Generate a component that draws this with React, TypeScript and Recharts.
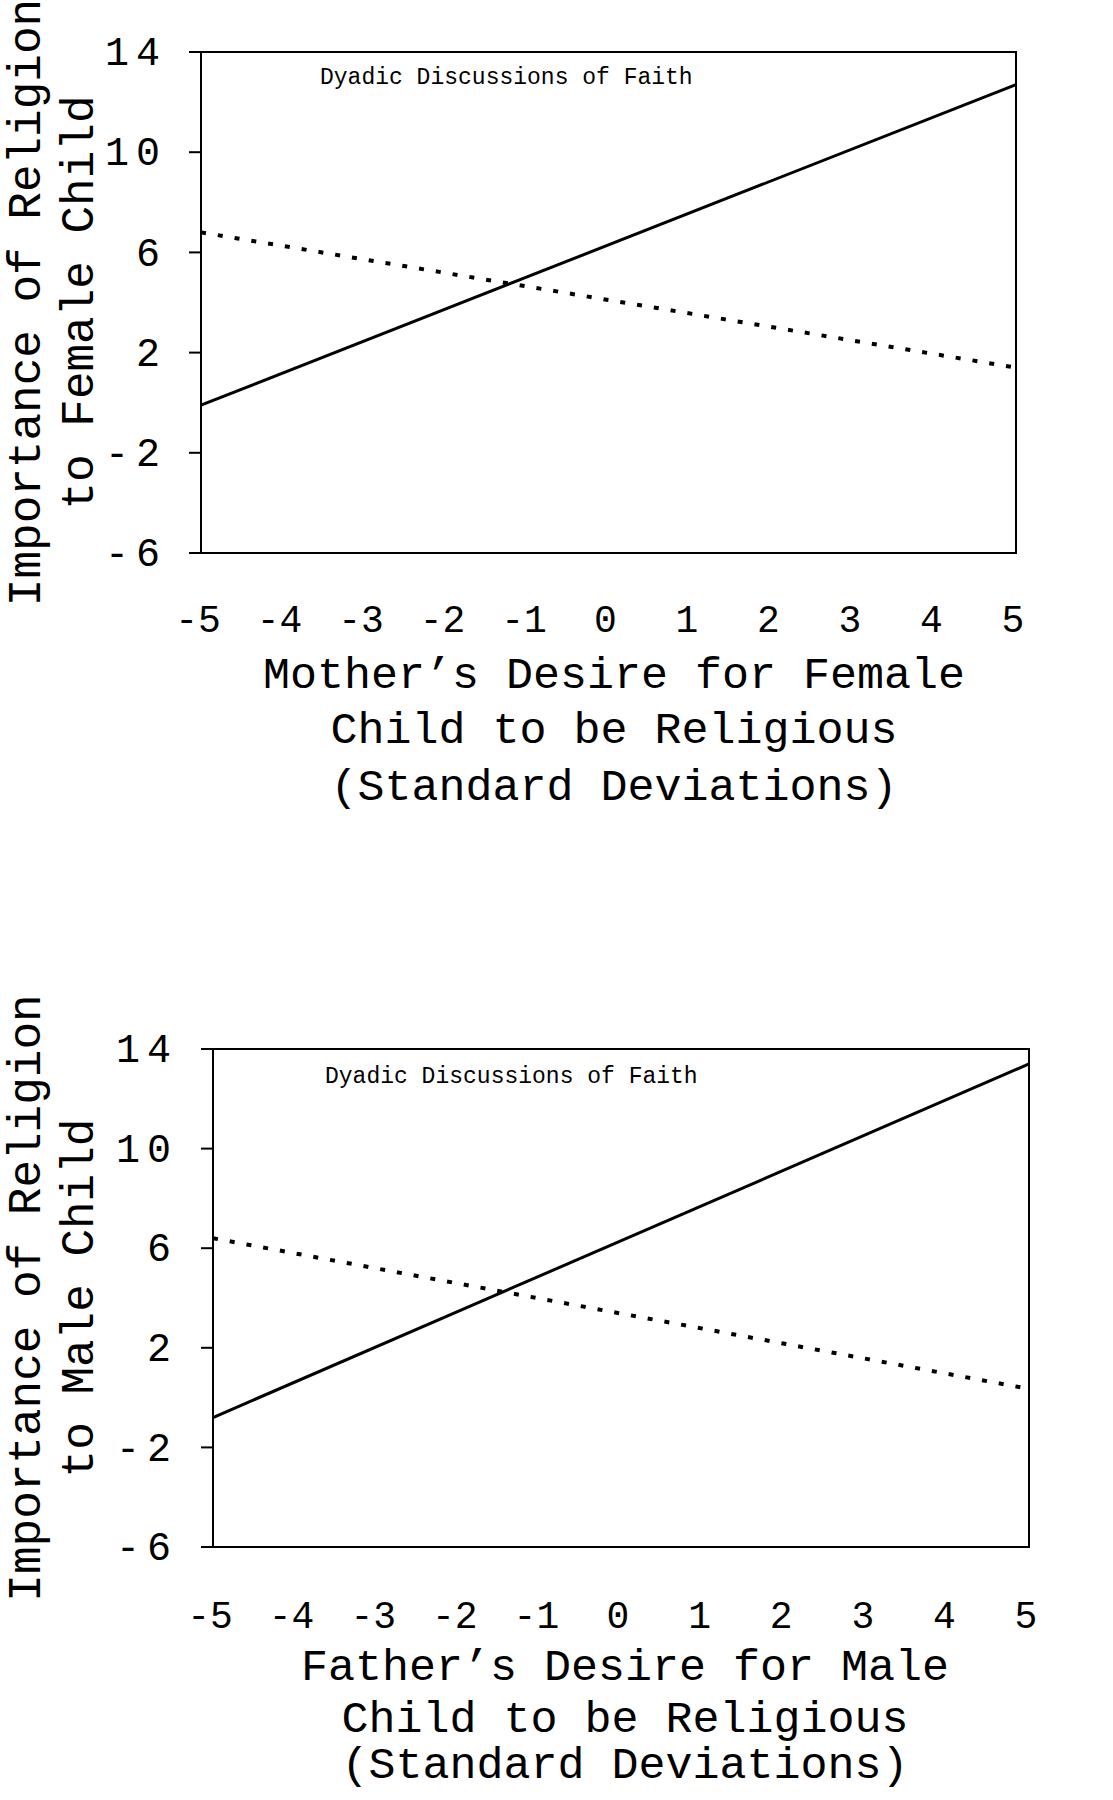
import { LineChart, Line, XAxis, YAxis, ReferenceArea } from "recharts";

const xValues = [-5, 5];
const xTicks = [-5, -4, -3, -2, -1, 0, 1, 2, 3, 4, 5];
const yTicks = [14, 10, 6, 2, -2, -6];

// solid = with dyadic discussions of faith, dotted = without
const femaleSolid = [-0.1, 12.7];
const femaleDotted = [6.8, 1.4];
const maleSolid = [-0.8, 13.4];
const maleDotted = [6.4, 0.35];

const annotation = "Dyadic Discussions of Faith";
const femaleYTitle = ["Importance of Religion", "to Female Child"];
const maleYTitle = ["Importance of Religion", "to Male Child"];
const femaleXTitle = ["Mother\u2019s Desire for Female", "Child to be Religious", "(Standard Deviations)"];
const maleXTitle = ["Father\u2019s Desire for Male", "Child to be Religious", "(Standard Deviations)"];

const FONT = "'Liberation Mono', 'DejaVu Sans Mono', monospace";
const W = 1113;
const H = 900;
const Y_AXIS_W = 150;
const X_AXIS_H = 100;

type Box = { left: number; right: number; top: number; bottom: number };

type PanelProps = {
  top: number;
  box: Box;
  solid: number[];
  dotted: number[];
  yTitle: string[];
  xTitle: string[];
  xTitleCenter: number;
  xTitleBase: number[];
  xTickBase: number;
  yTickRight: number;
  note: { dx: number; dy: number };
};

const Panel = ({
  top,
  box,
  solid,
  dotted,
  yTitle,
  xTitle,
  xTitleCenter,
  xTitleBase,
  xTickBase,
  yTickRight,
  note,
}: PanelProps) => {
  const data = xValues.map((x, i) => ({ x, solid: solid[i], dotted: dotted[i] }));
  const midY = (box.top + box.bottom) / 2;

  return (
    <div style={{ position: "absolute", left: 0, top, width: W, height: H }}>
      <LineChart
        width={W}
        height={H}
        data={data}
        margin={{
          top: box.top,
          right: W - box.right,
          left: box.left - Y_AXIS_W,
          bottom: H - box.bottom - X_AXIS_H,
        }}
      >
        <XAxis
          dataKey="x"
          type="number"
          domain={[-5, 5]}
          ticks={xTicks}
          interval={0}
          height={X_AXIS_H}
          axisLine={false}
          tickLine={false}
          tick={(p: any) => (
            <text
              x={p.x - 3}
              y={xTickBase}
              textAnchor="middle"
              fontFamily={FONT}
              fontSize={38}
              fill="#000"
            >
              {p.payload.value}
            </text>
          )}
          label={() => (
            <g>
              {xTitle.map((t, i) => (
                <text
                  key={i}
                  x={xTitleCenter}
                  y={xTitleBase[i]}
                  textAnchor="middle"
                  fontFamily={FONT}
                  fontSize={45}
                  fill="#000"
                >
                  {t}
                </text>
              ))}
            </g>
          )}
        />
        <YAxis
          type="number"
          domain={[-6, 14]}
          ticks={yTicks}
          interval={0}
          width={Y_AXIS_W}
          axisLine={false}
          tickSize={12}
          tickLine={{ stroke: "#000", strokeWidth: 2 }}
          tick={(p: any) => (
            <text
              x={yTickRight + 7}
              y={p.y}
              dy="0.33em"
              textAnchor="end"
              fontFamily={FONT}
              fontSize={40}
              letterSpacing={7}
              fill="#000"
            >
              {p.payload.value}
            </text>
          )}
          label={() => (
            <g>
              {yTitle.map((t, i) => {
                const cx = 28 + i * 53;
                return (
                  <text
                    key={i}
                    x={cx}
                    y={midY}
                    transform={`rotate(-90 ${cx} ${midY})`}
                    textAnchor="middle"
                    dominantBaseline="central"
                    fontFamily={FONT}
                    fontSize={46}
                    fill="#000"
                  >
                    {t}
                  </text>
                );
              })}
            </g>
          )}
        />
        <ReferenceArea
          x1={-5}
          x2={5}
          y1={-6}
          y2={14}
          fill="none"
          stroke="#000"
          strokeWidth={2}
          ifOverflow="visible"
          label={(p: any) => (
            <text
              x={p.viewBox.x + note.dx}
              y={p.viewBox.y + note.dy}
              fontFamily={FONT}
              fontSize={23}
              fill="#000"
            >
              {annotation}
            </text>
          )}
        />
        <Line
          type="linear"
          dataKey="solid"
          stroke="#000"
          strokeWidth={3}
          dot={false}
          isAnimationActive={false}
        />
        <Line
          type="linear"
          dataKey="dotted"
          stroke="#000"
          strokeWidth={4}
          strokeDasharray="5 12"
          dot={false}
          isAnimationActive={false}
        />
      </LineChart>
    </div>
  );
};

const App = () => {
  return (
    <div
      style={{
        position: "absolute",
        left: 0,
        top: 0,
        width: W,
        height: 1800,
        background: "#fff",
        overflow: "hidden",
      }}
    >
      <Panel
        top={0}
        box={{ left: 201, right: 1016, top: 52, bottom: 553 }}
        solid={femaleSolid}
        dotted={femaleDotted}
        yTitle={femaleYTitle}
        xTitle={femaleXTitle}
        xTitleCenter={614}
        xTitleBase={[688, 743, 800]}
        xTickBase={632}
        yTickRight={160}
        note={{ dx: 119, dy: 32 }}
      />
      <Panel
        top={900}
        box={{ left: 213, right: 1029, top: 149, bottom: 647 }}
        solid={maleSolid}
        dotted={maleDotted}
        yTitle={maleYTitle}
        xTitle={maleXTitle}
        xTitleCenter={625}
        xTitleBase={[780, 832, 878]}
        xTickBase={728}
        yTickRight={171}
        note={{ dx: 112, dy: 34 }}
      />
    </div>
  );
};

export default App;
